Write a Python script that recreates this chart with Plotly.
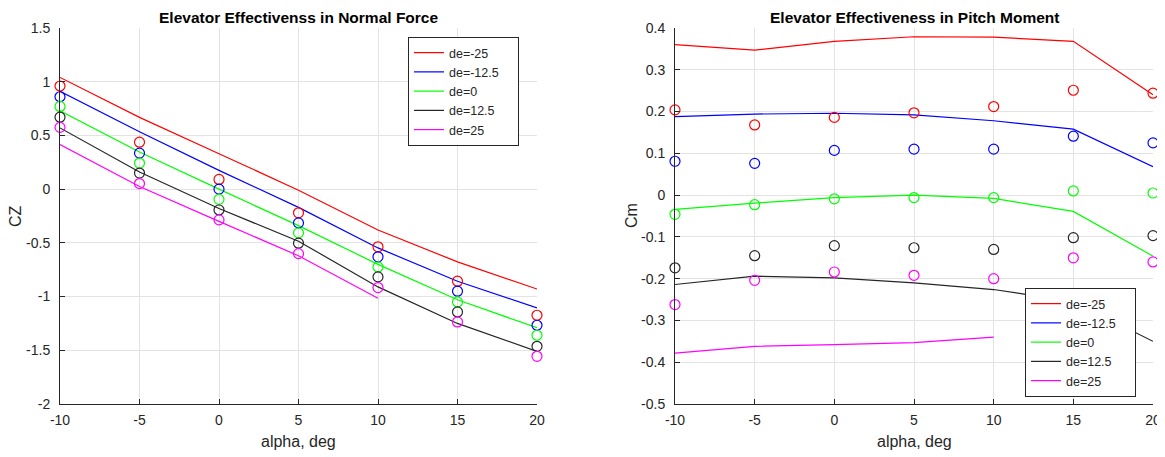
import plotly.graph_objects as go

# ---------------- data ----------------
alpha = [-10, -5, 0, 5, 10, 15, 20]
alpha_de25 = [-10, -5, 0, 5, 10]

series_names = ["de=-25", "de=-12.5", "de=0", "de=12.5", "de=25"]
series_colors = ["#ff0000", "#0000ff", "#00ff00", "#262626", "#ff00ff"]

# Normal force coefficient: model lines
cz_line_m25 = [1.04, 0.668, 0.33, -0.01, -0.38, -0.677, -0.93]
cz_line_m125 = [0.91, 0.535, 0.175, -0.17, -0.547, -0.857, -1.105]
cz_line_0 = [0.73, 0.345, 0.0, -0.34, -0.70, -1.03, -1.29]
cz_line_125 = [0.57, 0.16, -0.18, -0.485, -0.91, -1.25, -1.51]
cz_line_25 = [0.415, 0.025, -0.30, -0.62, -1.015]

# Normal force coefficient: data points
cz_pts_m25 = [0.96, 0.437, 0.09, -0.22, -0.537, -0.857, -1.174]
cz_pts_m125 = [0.86, 0.335, 0.0, -0.314, -0.63, -0.95, -1.267]
cz_pts_0 = [0.77, 0.243, -0.095, -0.407, -0.724, -1.05, -1.36]
cz_pts_125 = [0.67, 0.15, -0.194, -0.503, -0.817, -1.143, -1.463]
cz_pts_25 = [0.575, 0.052, -0.286, -0.60, -0.916, -1.236, -1.556]

# Pitch moment coefficient: model lines
cm_line_m25 = [0.36, 0.347, 0.368, 0.379, 0.378, 0.368, 0.24]
cm_line_m125 = [0.188, 0.194, 0.196, 0.192, 0.178, 0.158, 0.068]
cm_line_0 = [-0.034, -0.019, -0.006, 0.0, -0.008, -0.039, -0.146]
cm_line_125 = [-0.214, -0.194, -0.198, -0.21, -0.226, -0.255, -0.35]
cm_line_25 = [-0.378, -0.362, -0.358, -0.353, -0.34]

# Pitch moment coefficient: data points
cm_pts_m25 = [0.204, 0.168, 0.186, 0.197, 0.212, 0.251, 0.244]
cm_pts_m125 = [0.081, 0.076, 0.107, 0.110, 0.110, 0.141, 0.125]
cm_pts_0 = [-0.046, -0.023, -0.009, -0.006, -0.006, 0.010, 0.005]
cm_pts_125 = [-0.174, -0.145, -0.121, -0.126, -0.130, -0.102, -0.097]
cm_pts_25 = [-0.262, -0.204, -0.184, -0.192, -0.200, -0.150, -0.160]

x_ticks = [-10, -5, 0, 5, 10, 15, 20]
x_ticktext = ["-10", "-5", "0", "5", "10", "15", "20"]
cz_ticks = [-2, -1.5, -1, -0.5, 0, 0.5, 1, 1.5]
cz_ticktext = ["-2", "-1.5", "-1", "-0.5", "0", "0.5", "1", "1.5"]
cm_ticks = [-0.5, -0.4, -0.3, -0.2, -0.1, 0, 0.1, 0.2, 0.3, 0.4]
cm_ticktext = ["-0.5", "-0.4", "-0.3", "-0.2", "-0.1", "0", "0.1", "0.2", "0.3", "0.4"]

titles = ["Elevator Effectivenss in Normal Force", "Elevator Effectiveness in Pitch Moment"]
x_title = "alpha, deg"
y_titles = ["CZ", "Cm"]

# ---------------- figure ----------------
# the page has an 8px body margin, so the figure is placed 8px in from the top-left
OFF = 8
W, H = 1165 - OFF, 457 - OFF
fig = go.Figure()

cz_lines = [cz_line_m25, cz_line_m125, cz_line_0, cz_line_125, cz_line_25]
cz_pts = [cz_pts_m25, cz_pts_m125, cz_pts_0, cz_pts_125, cz_pts_25]
cm_lines = [cm_line_m25, cm_line_m125, cm_line_0, cm_line_125, cm_line_25]
cm_pts = [cm_pts_m25, cm_pts_m125, cm_pts_0, cm_pts_125, cm_pts_25]

NB = "\u00a0\u00a0\u00a0\u00a0"  # a little padding so the legend box is as wide as the original

for i in range(5):
    xs = alpha_de25 if i == 4 else alpha
    fig.add_trace(go.Scatter(x=xs, y=cz_lines[i], mode="lines", name=series_names[i] + NB,
                             line=dict(color=series_colors[i], width=1.2),
                             xaxis="x", yaxis="y", legend="legend"))
for i in range(5):
    fig.add_trace(go.Scatter(x=alpha, y=cz_pts[i], mode="markers", showlegend=False,
                             marker=dict(symbol="circle-open", size=10, color=series_colors[i],
                                         line=dict(width=1.2, color=series_colors[i])),
                             cliponaxis=False, xaxis="x", yaxis="y"))
for i in range(5):
    xs = alpha_de25 if i == 4 else alpha
    fig.add_trace(go.Scatter(x=xs, y=cm_lines[i], mode="lines", name=series_names[i] + NB,
                             line=dict(color=series_colors[i], width=1.2),
                             xaxis="x2", yaxis="y2", legend="legend2"))
for i in range(5):
    fig.add_trace(go.Scatter(x=alpha, y=cm_pts[i], mode="markers", showlegend=False,
                             marker=dict(symbol="circle-open", size=10, color=series_colors[i],
                                         line=dict(width=1.2, color=series_colors[i])),
                             cliponaxis=False, xaxis="x2", yaxis="y2"))

def px_x(p):
    return (p - OFF) / W

def px_y(p):
    return 1 - (p - OFF) / H

ax_color = "#262626"
grid_color = "#e3e3e3"
FONT = "Liberation Sans, Arial, sans-serif"
tick_font = dict(family=FONT, size=14, color=ax_color)

def xaxis(domain, anchor):
    return dict(domain=domain, anchor=anchor, range=[-10, 20], tickvals=x_ticks, ticktext=x_ticktext,
                showgrid=True, gridcolor=grid_color, gridwidth=1, zeroline=False,
                showline=True, linecolor=ax_color, linewidth=1, ticks="inside", ticklen=5,
                tickcolor=ax_color, tickfont=tick_font, mirror=False, fixedrange=True,
                automargin=False, ticklabelstandoff=3)

def yaxis(domain, anchor, rng, tv, tt):
    return dict(domain=domain, anchor=anchor, range=rng, tickvals=tv, ticktext=tt,
                showgrid=True, gridcolor=grid_color, gridwidth=1, zeroline=False,
                showline=True, linecolor=ax_color, linewidth=1, ticks="inside", ticklen=5,
                tickcolor=ax_color, tickfont=tick_font, mirror=False, fixedrange=True,
                automargin=False, ticklabelstandoff=6)

ydom = [px_y(404), px_y(28)]
legend_font = dict(family=FONT, size=12.5, color=ax_color)
fig.update_layout(
    width=W, height=H,
    margin=dict(l=0, r=0, t=0, b=0, autoexpand=False),
    paper_bgcolor="white", plot_bgcolor="white",
    font=dict(family=FONT, color=ax_color),
    xaxis=xaxis([px_x(60), px_x(537)], "y"),
    yaxis=yaxis(ydom, "x", [-2, 1.5], cz_ticks, cz_ticktext),
    xaxis2=xaxis([px_x(675), px_x(1153)], "y2"),
    yaxis2=yaxis(ydom, "x2", [-0.5, 0.4], cm_ticks, cm_ticktext),
    legend=dict(x=px_x(408), y=px_y(37), xanchor="left", yanchor="top",
                bgcolor="white", bordercolor=ax_color, borderwidth=1,
                font=legend_font, tracegroupgap=0, itemwidth=30),
    legend2=dict(x=px_x(1025), y=px_y(288), xanchor="left", yanchor="top",
                 bgcolor="white", bordercolor=ax_color, borderwidth=1,
                 font=legend_font, tracegroupgap=0, itemwidth=30),
    showlegend=True,
)

ann = []
for cx, t in [(298, titles[0]), (914, titles[1])]:
    ann.append(dict(x=px_x(cx), y=px_y(8), xref="paper", yref="paper", text="<b>" + t + "</b>",
                    showarrow=False, xanchor="center", yanchor="top", borderpad=0,
                    font=dict(family=FONT, size=15.5, color="black")))
for cx in [298, 914]:
    ann.append(dict(x=px_x(cx), y=px_y(441), xref="paper", yref="paper", text=x_title,
                    showarrow=False, xanchor="center", yanchor="middle",
                    font=dict(family=FONT, size=16, color=ax_color)))
for cx, t in [(15, y_titles[0]), (631, y_titles[1])]:
    ann.append(dict(x=px_x(cx), y=px_y(216), xref="paper", yref="paper", text=t, textangle=-90,
                    showarrow=False, xanchor="center", yanchor="middle",
                    font=dict(family=FONT, size=16, color=ax_color)))
fig.update_layout(annotations=ann)

fig.write_html("out.html")
